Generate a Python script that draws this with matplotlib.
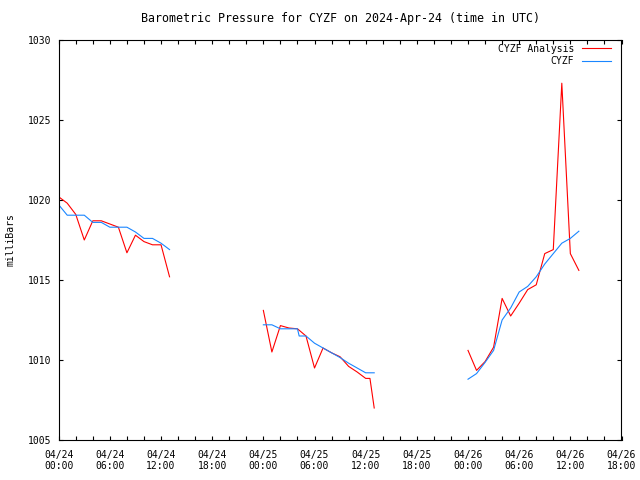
import numpy as np
import matplotlib
matplotlib.use("Agg")
import matplotlib.pyplot as plt
import matplotlib.dates as mdates
from datetime import datetime, timedelta

# hours after 2024-04-24 00:00 UTC, one list per run of data
start = datetime(2024, 4, 24)

ana_hours_1 = [0, 1, 2, 3, 4, 5, 6, 7, 8, 9, 10, 11, 12, 13]
ana_vals_1 = [1020.2, 1019.8, 1019.1, 1017.5, 1018.7, 1018.7, 1018.5, 1018.3,
              1016.7, 1017.8, 1017.4, 1017.2, 1017.2, 1015.2]
ana_hours_2 = [24, 25, 26, 27, 28, 29, 30, 31, 32, 33, 34, 35, 36, 36.5, 37]
ana_vals_2 = [1013.1, 1010.5, 1012.15, 1012.0, 1011.95, 1011.5, 1009.5, 1010.75,
              1010.45, 1010.2, 1009.6, 1009.25, 1008.85, 1008.85, 1007.0]
ana_hours_3 = [48, 49, 50, 51, 52, 53, 54, 55, 56, 57, 58, 59, 60, 61]
ana_vals_3 = [1010.6, 1009.35, 1009.9, 1010.8, 1013.85, 1012.75, 1013.55, 1014.4,
              1014.7, 1016.65, 1016.9, 1027.3, 1016.65, 1015.6]

obs_hours_1 = [0, 1, 2, 3, 4, 5, 6, 7, 8, 9, 10, 11, 12, 13]
obs_vals_1 = [1019.7, 1019.05, 1019.05, 1019.05, 1018.6, 1018.6, 1018.3, 1018.3,
              1018.3, 1018.0, 1017.6, 1017.6, 1017.3, 1016.9]
obs_hours_2 = [24, 25, 26, 27, 28, 28.2, 29, 30, 31, 32, 33, 34, 35, 36, 37]
obs_vals_2 = [1012.2, 1012.2, 1011.95, 1011.95, 1011.95, 1011.5, 1011.5, 1011.05,
              1010.75, 1010.45, 1010.15, 1009.8, 1009.5, 1009.2, 1009.2]
obs_hours_3 = [48, 49, 50, 51, 52, 53, 54, 55, 56, 57, 58, 59, 60, 61]
obs_vals_3 = [1008.8, 1009.15, 1009.85, 1010.6, 1012.5, 1013.25, 1014.25, 1014.6,
              1015.2, 1016.0, 1016.65, 1017.3, 1017.6, 1018.05]

ana_runs = [(ana_hours_1, ana_vals_1), (ana_hours_2, ana_vals_2), (ana_hours_3, ana_vals_3)]
obs_runs = [(obs_hours_1, obs_vals_1), (obs_hours_2, obs_vals_2), (obs_hours_3, obs_vals_3)]

y_ticks = [1005, 1010, 1015, 1020, 1025, 1030]

def to_dates(hours):
    return [start + timedelta(hours=h) for h in hours]

plt.rcParams['font.family'] = 'DejaVu Sans Mono'
plt.rcParams['font.size'] = 7

fig = plt.figure(figsize=(6.4, 4.8), dpi=100)
ax = fig.add_axes([58.7 / 640, 40 / 480, (621.5 - 58.7) / 640, 400 / 480])

# red = analysis, blue = station
for i, (h, v) in enumerate(ana_runs):
    ax.plot(to_dates(h), v, color='#ff0000', lw=0.8,
            label='CYZF Analysis' if i == 0 else '_nolegend_')
for i, (h, v) in enumerate(obs_runs):
    ax.plot(to_dates(h), v, color='#1a86ff', lw=0.8,
            label='CYZF' if i == 0 else '_nolegend_')

ax.set_xlim(start, start + timedelta(hours=66))
ax.set_ylim(1005, 1030)
ax.set_yticks(y_ticks)
ax.xaxis.set_major_locator(mdates.HourLocator(byhour=[0, 6, 12, 18]))
ax.xaxis.set_minor_locator(mdates.HourLocator(byhour=range(0, 24, 2)))
ax.xaxis.set_major_formatter(mdates.DateFormatter('%m/%d\n%H:%M'))

ax.tick_params(which='both', direction='in', top=True, right=True,
               length=3, width=0.8, colors='black')
ax.tick_params(axis='x', which='major', pad=7)
ax.tick_params(axis='y', which='major', pad=5)
for s in ax.spines.values():
    s.set_linewidth(0.8)

ax.set_ylabel('milliBars', labelpad=9)
ax.set_title('Barometric Pressure for CYZF on 2024-Apr-24 (time in UTC)', pad=13)

ax.legend(loc='upper right', bbox_to_anchor=(0.988, 1.0), frameon=False,
          markerfirst=False, handlelength=3.0, handletextpad=0.8,
          labelspacing=0.25, borderaxespad=0.0, fontsize=7)

fig.savefig('out.png', dpi=100)
